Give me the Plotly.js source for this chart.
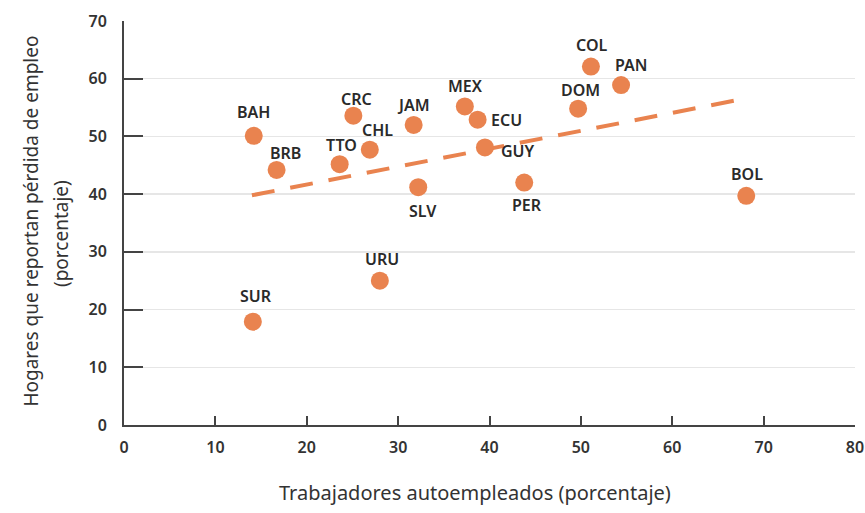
<!DOCTYPE html>
<html>
<head>
<meta charset="utf-8">
<script src="https://cdn.plot.ly/plotly-3.0.1.min.js"></script>
<style>
html,body{margin:0;padding:0;background:#fff;}
#chart{width:865px;height:513px;}
</style>
</head>
<body>
<div id="chart"></div>
<script>
// Data
const countries = ["BAH","BRB","SUR","URU","CRC","TTO","CHL","JAM","SLV","MEX","ECU","GUY","PER","DOM","COL","PAN","BOL"];
const selfEmployed = [14.2,16.7,14.1,28.0,25.1,23.6,26.9,31.7,32.2,37.3,38.7,39.5,43.8,49.7,51.1,54.4,68.1];
const jobLoss = [50.1,44.2,17.9,25.0,53.6,45.2,47.7,52.0,41.2,55.2,52.9,48.1,42.0,54.8,62.1,58.9,39.7];
const trendX = [14, 67.8];
const trendY = [39.8, 56.5];
const xTicks = [0,10,20,30,40,50,60,70,80];
const yTicks = [0,10,20,30,40,50,60,70];

// Label offsets in pixels (style, not data)
const labelDX = [0, 9, 3, 2, 3, 2, 8, 0, 5, 1, 29, 33, 3, 2, 1, 10, 1];
const labelDY = [24, 17, 26, 22, 17, 19, 20, 20, -24, 20, 0, -4, -22, 19, 22, 20, 22];

const FAM = "Noto Sans";
const ORANGE = "#E9834F";
const f = (size, color, weight) => ({family: FAM, size: size, color: color, weight: weight});

const traces = [
  {
    x: trendX, y: trendY, type: "scatter", mode: "lines",
    line: {color: ORANGE, width: 4, dash: "23px,16px"},
    hoverinfo: "skip", showlegend: false
  },
  {
    x: selfEmployed, y: jobLoss, type: "scatter", mode: "markers",
    marker: {color: ORANGE, size: 18, line: {width: 0}},
    cliponaxis: false, showlegend: false
  }
];

const labelAnn = countries.map((c, i) => ({
  text: c, x: selfEmployed[i], y: jobLoss[i], xref: "x", yref: "y",
  xshift: labelDX[i], yshift: labelDY[i], showarrow: false,
  xanchor: "center", yanchor: "middle",
  font: f(16, "#2a2a2a", 600)
}));

const layout = {
  width: 865, height: 513,
  margin: {l: 124, r: 10, t: 21, b: 88},
  paper_bgcolor: "#fff", plot_bgcolor: "#fff",
  font: f(14, "#333", 400),
  showlegend: false,
  xaxis: {
    range: [0, 80], tickvals: xTicks, ticktext: xTicks.map(String),
    showgrid: false, zeroline: false,
    showline: true, linecolor: "#444", linewidth: 2,
    ticks: "inside", ticklen: 9, tickwidth: 2, tickcolor: "#444",
    tickfont: f(16, "#333", 600),
    ticklabelstandoff: 7
  },
  yaxis: {
    range: [0, 70], tickvals: yTicks, ticktext: yTicks.map(String),
    showgrid: true, gridcolor: "#e6e6e6", gridwidth: 1.5,
    zeroline: false,
    showline: true, linecolor: "#444", linewidth: 2,
    ticks: "inside", ticklen: 19, tickwidth: 2, tickcolor: "#444",
    tickfont: f(16, "#333", 600),
    ticklabelstandoff: 12
  },
  annotations: labelAnn.concat([
    {
      text: "Trabajadores autoempleados (porcentaje)",
      xref: "paper", yref: "paper", x: 0.480, y: -0.168, xanchor: "center", yanchor: "middle",
      showarrow: false, font: f(20, "#333", 400)
    },
    {
      text: "Hogares que reportan pérdida de empleo",
      xref: "paper", yref: "paper", x: -0.127, y: 0.504, xanchor: "center", yanchor: "middle",
      textangle: -90, showarrow: false, font: f(19, "#333", 400)
    },
    {
      text: "(porcentaje)",
      xref: "paper", yref: "paper", x: -0.086, y: 0.473, xanchor: "center", yanchor: "middle",
      textangle: -90, showarrow: false, font: f(19, "#333", 400)
    }
  ])
};

Plotly.newPlot("chart", traces, layout, {staticPlot: true, displayModeBar: false});
</script>
</body>
</html>
